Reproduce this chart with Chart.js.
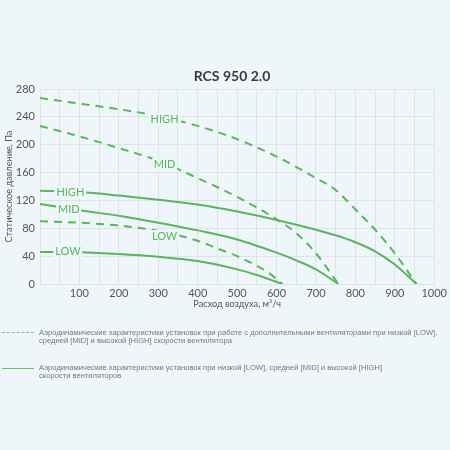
<!DOCTYPE html>
<html>
<head>
<meta charset="utf-8">
<script src="https://cdn.jsdelivr.net/npm/chart.js@4/dist/chart.umd.min.js"></script>
<style>
  html, body { margin:0; padding:0; background:#eef6fa; width:450px; height:450px; overflow:hidden; }
  #wrap { position:relative; width:450px; height:450px; }
  canvas { position:absolute; left:0; top:0; }
  .t { position:absolute; white-space:nowrap; }
  #title { left:0; width:464px; text-align:center; top:67px; font:bold 14px 'Lato'; color:#3a3a3a; }
  .cl { font:11px 'Lato'; color:#5cb45f; background:#eef6fa; padding:0 2px; transform:translate(-50%,-50%); line-height:12px; }
  .leg { left:39px; font:7.6px 'Liberation Sans'; color:#777; line-height:8px; }
</style>
</head>
<body>
<div id="wrap">
  <canvas id="c" width="450" height="450"></canvas>
  <div id="title" class="t">RCS 950 2.0</div>
  <div class="t" style="left:2px;top:332px;width:32px;border-top:1px dashed #7cc47f;"></div>
  <div class="t leg" style="top:329px;">Аэродинамические характеристики установок при работе с дополнительными вентиляторами при низкой [LOW],<br>средней [MID] и высокой [HIGH] скорости вентилятора</div>
  <div class="t" style="left:2px;top:368px;width:32px;border-top:1px solid #6dbf70;"></div>
  <div class="t leg" style="top:364px;">Аэродинамические характеристики установок при низкой [LOW], средней [MID] и высокой [HIGH]<br>скорости вентиляторов</div>
</div>
<script>
// ---- data ----
const xTickValues = [100,200,300,400,500,600,700,800,900,1000];
const yTickValues = [0,40,80,120,160,200,240,280];

const xHighDashed = [0,100,200,300,400,500,600,700,750,800,850,900,955];
const yHighDashed = [267,259,251,241,227,208,183,152,135,107,78,44,0];
const xMidDashed  = [0,100,200,300,400,500,600,650,700,757];
const yMidDashed  = [227,212,195,177,152,125,93,73,44,0];
const xLowDashed  = [0,100,200,300,400,450,500,550,580,615];
const yLowDashed  = [90,88,84,76,62,51,40,26,16,0];

const xHighSolid = [0,100,200,300,400,500,600,700,750,800,850,900,955];
const yHighSolid = [134,132,127,121,114,104,92,78,70,60,47,28,0];
const xMidSolid  = [0,100,200,300,400,500,600,650,700,757];
const yMidSolid  = [115,106,98,88,77,64,45,34,21,0];
const xLowSolid  = [0,100,200,300,400,500,550,580,615];
const yLowSolid  = [46,45.5,43,39,33,21,13,7,0];

const curveLabelText = ['HIGH','MID','LOW','HIGH','MID','LOW'];
const curveLabelX    = [316,316,316,77,73,71];
const curveLabelY    = [237,172,69,132,107,47];

// ---- build ----
const green = '#5cb45f';
function pts(xs, ys){ return xs.map((x,i)=>({x:x, y:ys[i]})); }
function ds(xs, ys, dashed){
  return {
    data: pts(xs, ys),
    borderColor: green,
    borderWidth: 2,
    borderDash: dashed ? [8,6] : [],
    pointRadius: 0,
    fill: false,
    cubicInterpolationMode: 'monotone'
  };
}
const tickFont = {family:'Lato', size:11};
const axisTitleFont = {family:'Lato', size:9.2};
const gridColor = '#dde3e6';

const chart = new Chart(document.getElementById('c'), {
  type: 'line',
  data: {
    datasets: [
      ds(xHighDashed, yHighDashed, true),
      ds(xMidDashed, yMidDashed, true),
      ds(xLowDashed, yLowDashed, true),
      ds(xHighSolid, yHighSolid, false),
      ds(xMidSolid, yMidSolid, false),
      ds(xLowSolid, yLowSolid, false)
    ]
  },
  options: {
    responsive: false,
    animation: false,
    layout: { padding: { top: 89, left: 0, right: 13, bottom: 136 } },
    plugins: { legend: { display: false }, tooltip: { enabled: false }, title: { display: false } },
    scales: {
      x: {
        type: 'linear', min: 0, max: 1000,
        ticks: {
          stepSize: 50, autoSkip: false, maxRotation: 0, minRotation: 0,
          font: tickFont, color: '#555', padding: 3,
          callback: v => xTickValues.includes(v) ? String(v) : ''
        },
        grid: { color: gridColor, drawTicks: false },
        border: { color: gridColor },
        title: { display: true, text: 'Расход воздуха, м³/ч', font: axisTitleFont, color: '#555', padding: {top:0, bottom:4} },
        afterFit(s){ s.height = 30; }
      },
      y: {
        min: 0, max: 280,
        ticks: {
          stepSize: 40, font: tickFont, color: '#555', padding: 5,
          callback: v => yTickValues.includes(v) ? String(v) : ''
        },
        grid: { color: gridColor, drawTicks: false },
        border: { color: gridColor },
        title: { display: true, text: 'Статическое давление, Па', font: axisTitleFont, color: '#555', padding: {top:4, bottom:0} },
        afterFit(s){ s.width = 40; }
      }
    }
  }
});

// curve labels as real text, positioned through the chart scales
const wrap = document.getElementById('wrap');
curveLabelText.forEach((t, i) => {
  const el = document.createElement('div');
  el.className = 't cl';
  el.textContent = t;
  el.style.left = chart.scales.x.getPixelForValue(curveLabelX[i]) + 'px';
  el.style.top = chart.scales.y.getPixelForValue(curveLabelY[i]) + 'px';
  wrap.appendChild(el);
});
</script>
</body>
</html>
